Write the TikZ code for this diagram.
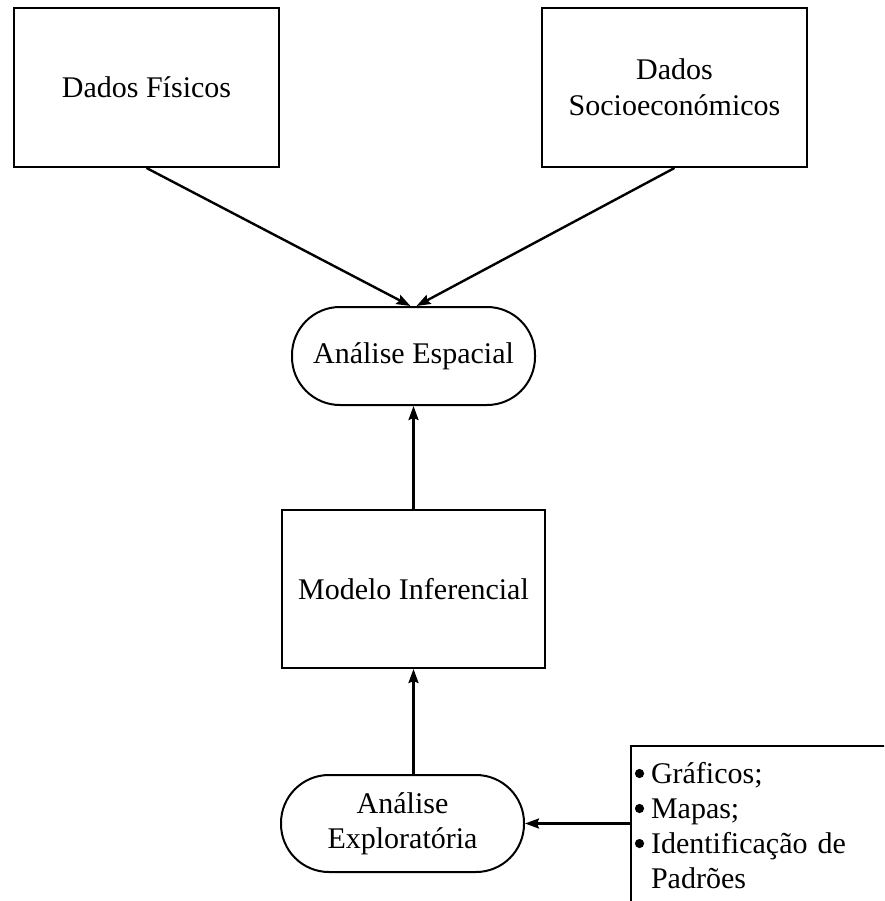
\documentclass[tikz,border=0pt]{standalone}
\usepackage{fontspec}
\setmainfont{Liberation Serif}
\usetikzlibrary{arrows.meta,calc}
\begin{document}
\begin{tikzpicture}[x=1pt,y=-1pt,
  every node/.style={font=\fontsize{30}{36}\selectfont, align=center},
  box/.style={draw, line width=2pt, inner sep=0pt},
  term/.style={draw, line width=2pt, rounded corners=48pt, inner sep=0pt},
  link/.style={line width=2.4pt, -{Stealth[length=14pt,width=10pt,inset=2pt]}},
  bulletdot/.style={fill=black}]
\useasboundingbox (0,0) rectangle (884,901);
\clip (0,0) rectangle (884,901);

% data sources
\node[box, minimum width=265pt, minimum height=159pt] (fis) at (146.5,87.5) {Dados Físicos};
\node[box, minimum width=265pt, minimum height=159pt] (soc) at (674.5,87.5) {Dados\\Socioeconómicos};

% processing chain
\node[term, minimum width=243pt, minimum height=98pt] (esp) at (413.5,356) {Análise Espacial};
\node[box, minimum width=263pt, minimum height=158pt] (mod) at (413.5,589) {Modelo Inferencial};
\node[term, minimum width=243pt, minimum height=97pt] (exp) at (402.5,823.5) {Análise\\[-1pt]Exploratória};

% list of exploratory tools (box runs past the page edge)
\node[box, anchor=north west, align=left, text width=280pt,
      inner xsep=3pt, inner ysep=0pt] (lst) at (630,745)
  {\rule{0pt}{37pt}\hspace*{17pt}Gráficos;\\[-1pt]
   \hspace*{17pt}Mapas;\\[-1pt]
   \hspace*{17pt}Identificação de\\[-1pt]
   \hspace*{17pt}Padrões\rule[-100pt]{0pt}{100pt}};

% list bullets
\fill[bulletdot] (639.5,773.5) circle (4.6);
\fill[bulletdot] (639.5,808.5) circle (4.6);
\fill[bulletdot] (639.5,843.5) circle (4.6);

% connectors
\draw[link] (fis.south) -- ($(esp.north)+(-3,0)$);
\draw[link] (soc.south) -- ($(esp.north)+(3,0)$);
\draw[link] (mod.north) -- (esp.south);
\draw[link] (exp.north -| mod.south) -- (mod.south);
\draw[link] (exp.east -| lst.west) -- (exp.east);
\end{tikzpicture}
\end{document}
